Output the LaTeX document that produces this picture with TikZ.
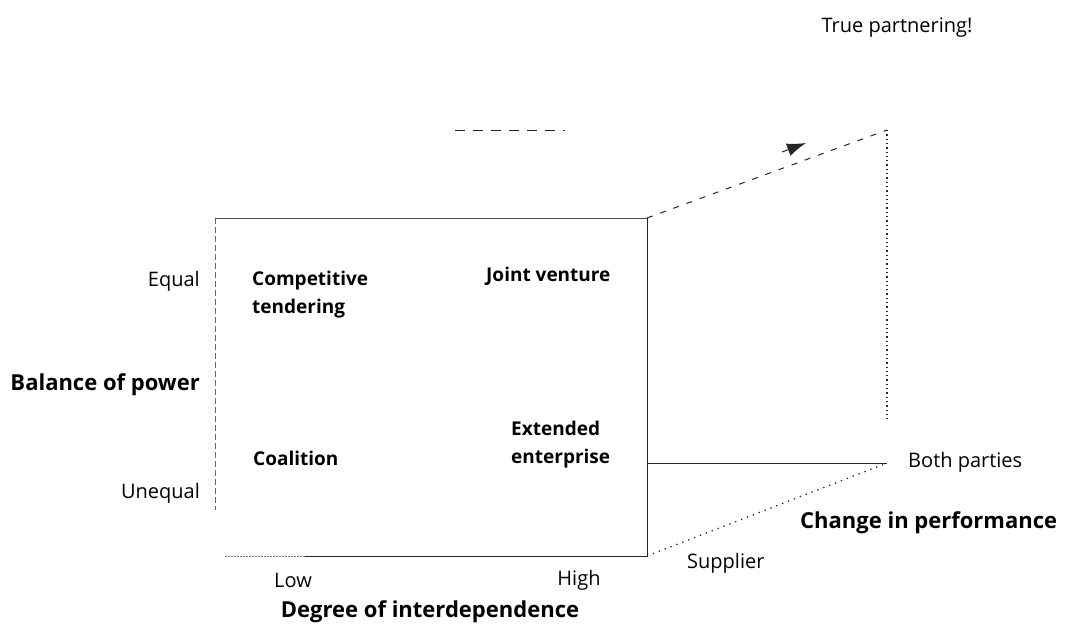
\documentclass[tikz,border=0pt]{standalone}
\usepackage{fontspec}
\setmainfont{Open Sans}
\usepackage{tikz}
\usetikzlibrary{calc}
\usetikzlibrary{arrows.meta}
\usetikzlibrary{positioning}
\tikzset{>=latex}
\tikzstyle{lab} = [draw=none, inner sep=0, font=\fontsize{20}{23}\selectfont]
\tikzstyle{cell} = [draw=none, inner sep=0, align=left, font=\fontsize{19}{28}\selectfont\bfseries]
\tikzstyle{axis} = [draw=none, inner sep=0, font=\fontsize{22}{26}\selectfont\bfseries]
\tikzstyle{edge} = [line width=1pt, draw=black!85]
\tikzstyle{dots} = [line width=1.3pt, draw=black!85, dash pattern=on 1.3pt off 5pt]

\begin{document}
\begin{tikzpicture}[x=1pt, y=-1pt]
\useasboundingbox (0,0) rectangle (1067,635);
% front face of the box
\coordinate (TL) at (215,218);
\coordinate (TR) at (647,218);
\coordinate (BR) at (647,556);
\coordinate (BL) at (215,510);
\coordinate (MB) at (305,556);
\coordinate (ML) at (225,556);
% back edges
\coordinate (P) at (887,130);
\coordinate (Q) at (887,463);
\coordinate (R) at (647,463);
\coordinate (S) at (887,420);
\coordinate (U) at (455,130);
\coordinate (V) at (565,130);
\coordinate (A1) at (782,152);
\coordinate (A2) at (806,143);

\draw [edge, dashed, dash pattern=on 6pt off 3pt, draw=black!60] (TL) -- (BL);
\draw [edge, draw=black!70] (TL) -- (TR);
\draw [edge] (TR) -- (BR) -- (MB);
\draw [edge, dash pattern=on 2pt off 1pt, draw=black!55] (MB) -- (ML);
\draw [edge] (R) -- (Q);
\draw [dots] (BR) -- (Q);
\draw [dots, dash pattern=on 1.3pt off 3pt] (P) -- (S);
\draw [edge, dash pattern=on 6pt off 8pt] (TR) -- (P);
\draw [edge, -{Latex[length=19pt,width=13pt]}] (A1) -- (A2);
\draw [edge, dash pattern=on 10pt off 8pt] (U) -- (V);

% labels
\node [lab, anchor=center] (tp) at (897,28) {True partnering!};
\node [lab, anchor=east] (eq) at (200,281) {Equal};
\node [axis, anchor=east] (bp) at (200,385) {Balance of power};
\node [lab, anchor=east] (uneq) at (200,493) {Unequal};
\node [cell, anchor=west] (ct) at (252,295) {Competitive\\tendering};
\node [cell, anchor=west] (jv) at (486,276) {Joint venture};
\node [cell, anchor=west] (co) at (253,458) {Coalition};
\node [cell, anchor=west] (ee) at (511,445) {Extended\\enterprise};
\node [lab] (low) at (293,580) {Low};
\node [lab] (high) at (579,580) {High};
\node [axis] (di) at (430,612) {Degree of interdependence};
\node [lab, anchor=west] (sup) at (687,563) {Supplier};
\node [lab, anchor=west] (both) at (908,462) {Both parties};
\node [axis, anchor=west] (cp) at (800,523) {Change in performance};
\end{tikzpicture}
\end{document}
